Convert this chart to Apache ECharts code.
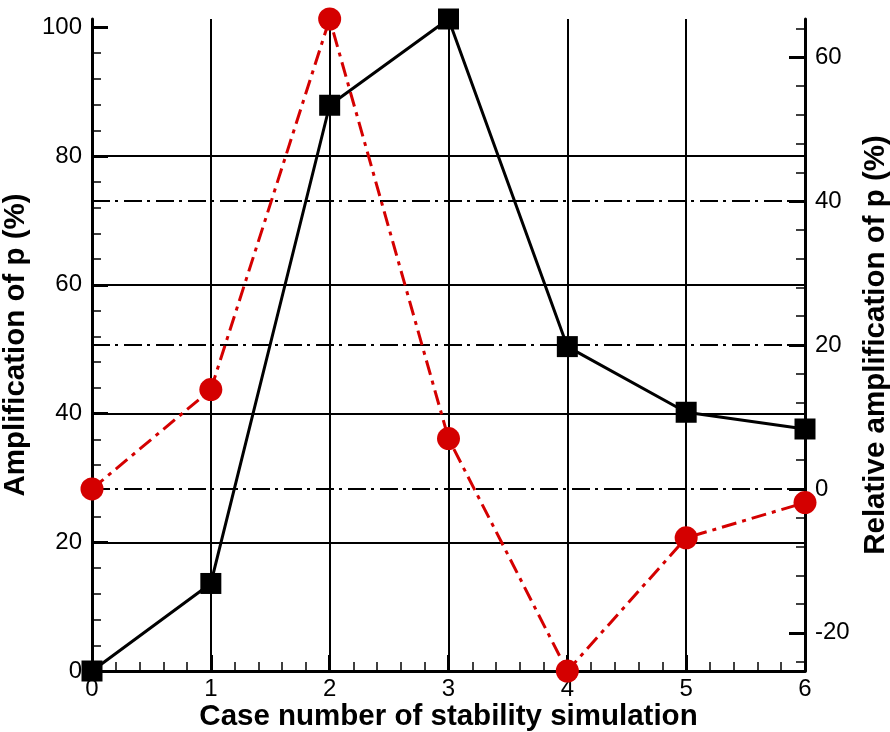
<!DOCTYPE html>
<html>
<head>
<meta charset="utf-8">
<script src="https://cdn.jsdelivr.net/npm/echarts@6/dist/echarts.min.js"></script>
<style>
  html, body { margin: 0; padding: 0; background: #fff; }
  #chart { width: 890px; height: 732px; }
</style>
</head>
<body>
<div id="chart"></div>
<script>
// Case numbers on the horizontal axis
const cases = [0, 1, 2, 3, 4, 5, 6];
// Amplification of p (%) per case, left axis
const amplification = [0, 13.6, 87.9, 101.3, 50.4, 40.2, 37.6];
// Relative amplification of p (%) per case, right axis
const relativeAmplification = [0, 13.8, 65.3, 7.0, -25.3, -6.8, -1.9];

// Axis extents
const leftRange = [0, 101.3];
const rightRange = [-25.3, 65.3];
const caseRange = [0, 6];

// Tick positions
const leftMajorTicks = [0, 20, 40, 60, 80, 100];
const leftMinorTicks = [4, 8, 12, 16, 24, 28, 32, 36, 44, 48, 52, 56, 64, 68, 72, 76, 84, 88, 92, 96];
const rightMajorTicks = [-20, 0, 20, 40, 60];
const rightMinorTicks = [-24, -16, -12, -8, -4, 4, 8, 12, 16, 24, 28, 32, 36, 44, 48, 52, 56, 64];

const FONT = "'Liberation Sans', Arial, Helvetica, sans-serif";
const RED = '#d40000';

const tickLabel = { fontFamily: FONT, fontSize: 24, color: '#000' };
const titleText = { fontFamily: FONT, fontSize: 29.5, fontWeight: 'bold', color: '#000' };

const chart = echarts.init(document.getElementById('chart'), null, { renderer: 'canvas' });

chart.setOption({
  animation: false,
  backgroundColor: '#fff',
  grid: { left: 92, right: 85, top: 19, bottom: 61, containLabel: false, outerBoundsMode: 'none' },
  xAxis: {
    type: 'value',
    min: caseRange[0],
    max: caseRange[1],
    interval: 1,
    name: 'Case number of stability simulation',
    nameLocation: 'middle',
    nameGap: 31,
    nameMoveOverlap: false,
    nameTextStyle: titleText,
    axisLine: { show: true, onZero: false, lineStyle: { color: '#000', width: 3 } },
    axisTick: { show: true, inside: true, length: 16, lineStyle: { color: '#000', width: 3 } },
    minorTick: { show: true, splitNumber: 5, length: 9, lineStyle: { color: '#000', width: 1.5 } },
    splitLine: { show: true, lineStyle: { color: '#000', width: 2 } },
    axisLabel: Object.assign({ margin: 6 }, tickLabel)
  },
  yAxis: [
    {
      type: 'value',
      position: 'left',
      min: leftRange[0],
      max: leftRange[1],
      interval: 20,
      name: 'Amplification of p (%)',
      nameLocation: 'middle',
      nameRotate: 90,
      nameGap: 49,
      nameTextStyle: titleText,
      axisLine: { show: true, onZero: false, lineStyle: { color: '#000', width: 3 } },
      axisTick: { show: true, inside: true, length: 16, customValues: leftMajorTicks, lineStyle: { color: '#000', width: 3 } },
      splitLine: { show: true, showMinLine: false, showMaxLine: false, lineStyle: { color: '#000', width: 2 } },
      axisLabel: Object.assign({ margin: 10, customValues: leftMajorTicks }, tickLabel)
    },
    {
      type: 'value',
      position: 'right',
      min: rightRange[0],
      max: rightRange[1],
      splitNumber: 5,
      minInterval: 20,
      maxInterval: 20,
      name: 'Relative amplification of p (%)',
      nameLocation: 'middle',
      nameRotate: 90,
      nameGap: 54,
      nameTextStyle: titleText,
      axisLine: { show: true, onZero: false, lineStyle: { color: '#000', width: 3 } },
      axisTick: { show: true, inside: true, length: 16, customValues: rightMajorTicks, lineStyle: { color: '#000', width: 3 } },
      splitLine: { show: true, showMinLine: false, showMaxLine: false, lineStyle: { color: '#000', width: 2, type: [18, 5, 3, 6] } },
      axisLabel: Object.assign({ margin: 10, customValues: rightMajorTicks }, tickLabel)
    },
    {
      // minor ticks, left side
      type: 'value',
      position: 'left',
      min: leftRange[0],
      max: leftRange[1],
      axisLine: { show: false },
      axisLabel: { show: false },
      splitLine: { show: false },
      axisTick: { show: true, inside: true, length: 9, customValues: leftMinorTicks, lineStyle: { color: '#000', width: 1.5 } }
    },
    {
      // minor ticks, right side
      type: 'value',
      position: 'right',
      min: rightRange[0],
      max: rightRange[1],
      axisLine: { show: false },
      axisLabel: { show: false },
      splitLine: { show: false },
      axisTick: { show: true, inside: true, length: 9, customValues: rightMinorTicks, lineStyle: { color: '#000', width: 1.5 } }
    }
  ],
  series: [
    {
      name: 'Relative amplification',
      type: 'line',
      yAxisIndex: 1,
      clip: false,
      data: cases.map((c, i) => [c, relativeAmplification[i]]),
      symbol: 'circle',
      symbolSize: 23,
      itemStyle: { color: RED },
      lineStyle: { color: RED, width: 3, type: [15, 6, 4, 6] },
      z: 3
    },
    {
      name: 'Amplification',
      type: 'line',
      yAxisIndex: 0,
      clip: false,
      data: cases.map((c, i) => [c, amplification[i]]),
      symbol: 'rect',
      symbolSize: 21,
      itemStyle: { color: '#000' },
      lineStyle: { color: '#000', width: 3 },
      z: 4
    }
  ]
});
</script>
</body>
</html>
